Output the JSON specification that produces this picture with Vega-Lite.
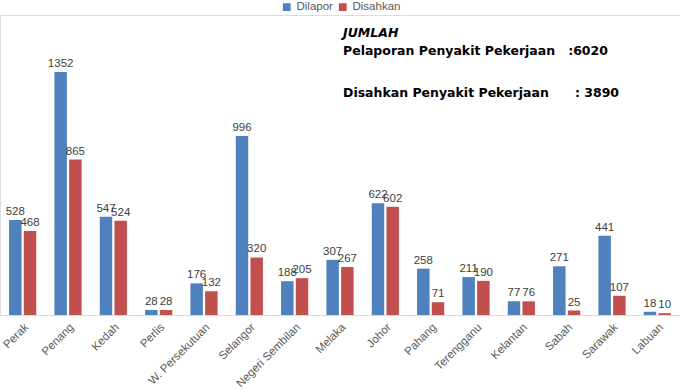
{
  "$schema": "https://vega.github.io/schema/vega-lite/v6.json",
  "width": 680,
  "height": 300,
  "autosize": "none",
  "padding": {"left": 0, "top": 15, "right": 0, "bottom": 76},
  "background": "white",
  "title": {
    "text": "JUMLAH",
    "subtitle": ["Pelaporan Penyakit Pekerjaan\u00a0\u00a0\u00a0:6020", "Disahkan Penyakit Pekerjaan\u00a0\u00a0\u00a0\u00a0\u00a0\u00a0: 3890"],
    "frame": "group",
    "anchor": "start",
    "orient": "top",
    "dx": 343,
    "dy": 102,
    "font": "DejaVu Sans",
    "fontSize": 12.5,
    "fontWeight": "bold",
    "fontStyle": "italic",
    "color": "#000000",
    "subtitleFont": "DejaVu Sans",
    "subtitleFontSize": 12.5,
    "subtitleFontWeight": "bold",
    "subtitleColor": "#000000",
    "subtitleLineHeight": 42,
    "subtitlePadding": 5
  },
  "data": {
    "values": [
      {"negeri": "Perak", "jenis": "Dilapor", "jumlah": 528},
      {"negeri": "Perak", "jenis": "Disahkan", "jumlah": 468},
      {"negeri": "Penang", "jenis": "Dilapor", "jumlah": 1352},
      {"negeri": "Penang", "jenis": "Disahkan", "jumlah": 865},
      {"negeri": "Kedah", "jenis": "Dilapor", "jumlah": 547},
      {"negeri": "Kedah", "jenis": "Disahkan", "jumlah": 524},
      {"negeri": "Perlis", "jenis": "Dilapor", "jumlah": 28},
      {"negeri": "Perlis", "jenis": "Disahkan", "jumlah": 28},
      {"negeri": "W. Persekutuan", "jenis": "Dilapor", "jumlah": 176},
      {"negeri": "W. Persekutuan", "jenis": "Disahkan", "jumlah": 132},
      {"negeri": "Selangor", "jenis": "Dilapor", "jumlah": 996},
      {"negeri": "Selangor", "jenis": "Disahkan", "jumlah": 320},
      {"negeri": "Negeri Sembilan", "jenis": "Dilapor", "jumlah": 188},
      {"negeri": "Negeri Sembilan", "jenis": "Disahkan", "jumlah": 205},
      {"negeri": "Melaka", "jenis": "Dilapor", "jumlah": 307},
      {"negeri": "Melaka", "jenis": "Disahkan", "jumlah": 267},
      {"negeri": "Johor", "jenis": "Dilapor", "jumlah": 622},
      {"negeri": "Johor", "jenis": "Disahkan", "jumlah": 602},
      {"negeri": "Pahang", "jenis": "Dilapor", "jumlah": 258},
      {"negeri": "Pahang", "jenis": "Disahkan", "jumlah": 71},
      {"negeri": "Terengganu", "jenis": "Dilapor", "jumlah": 211},
      {"negeri": "Terengganu", "jenis": "Disahkan", "jumlah": 190},
      {"negeri": "Kelantan", "jenis": "Dilapor", "jumlah": 77},
      {"negeri": "Kelantan", "jenis": "Disahkan", "jumlah": 76},
      {"negeri": "Sabah", "jenis": "Dilapor", "jumlah": 271},
      {"negeri": "Sabah", "jenis": "Disahkan", "jumlah": 25},
      {"negeri": "Sarawak", "jenis": "Dilapor", "jumlah": 441},
      {"negeri": "Sarawak", "jenis": "Disahkan", "jumlah": 107},
      {"negeri": "Labuan", "jenis": "Dilapor", "jumlah": 18},
      {"negeri": "Labuan", "jenis": "Disahkan", "jumlah": 10}
    ]
  },
  "encoding": {
    "x": {
      "field": "negeri",
      "type": "nominal",
      "sort": null,
      "scale": {"paddingInner": 0.4, "paddingOuter": 0.2},
      "axis": {
        "title": null,
        "labelAngle": -45,
        "labelFont": "Liberation Sans",
        "labelFontSize": 11.5,
        "labelColor": "#595959",
        "ticks": false,
        "domainColor": "#d9d9d9",
        "labelPadding": 6
      }
    },
    "xOffset": {"field": "jenis", "type": "nominal", "sort": ["Dilapor", "Disahkan"], "scale": {"paddingInner": 0.15}},
    "y": {"field": "jumlah", "type": "quantitative", "scale": {"domain": [0, 1669], "nice": false}, "axis": null}
  },
  "layer": [
    {
      "mark": {"type": "bar"},
      "encoding": {
        "color": {
          "field": "jenis",
          "type": "nominal",
          "sort": ["Dilapor", "Disahkan"],
          "scale": {"domain": ["Dilapor", "Disahkan"], "range": ["#4F81BD", "#C0504D"]},
          "legend": {
            "title": null,
            "orient": "none",
            "legendX": 281,
            "legendY": -14,
            "direction": "horizontal",
            "symbolType": "square",
            "symbolSize": 60,
            "labelFont": "Liberation Sans",
            "labelFontSize": 11.5,
            "labelColor": "#595959",
            "labelOffset": 4,
            "columnPadding": 4,
            "symbolOffset": 0
          }
        }
      }
    },
    {
      "mark": {"type": "text", "dy": -8, "font": "Liberation Sans", "fontSize": 11.5, "color": "#404040"},
      "encoding": {"text": {"field": "jumlah", "type": "quantitative"}}
    }
  ]
}
